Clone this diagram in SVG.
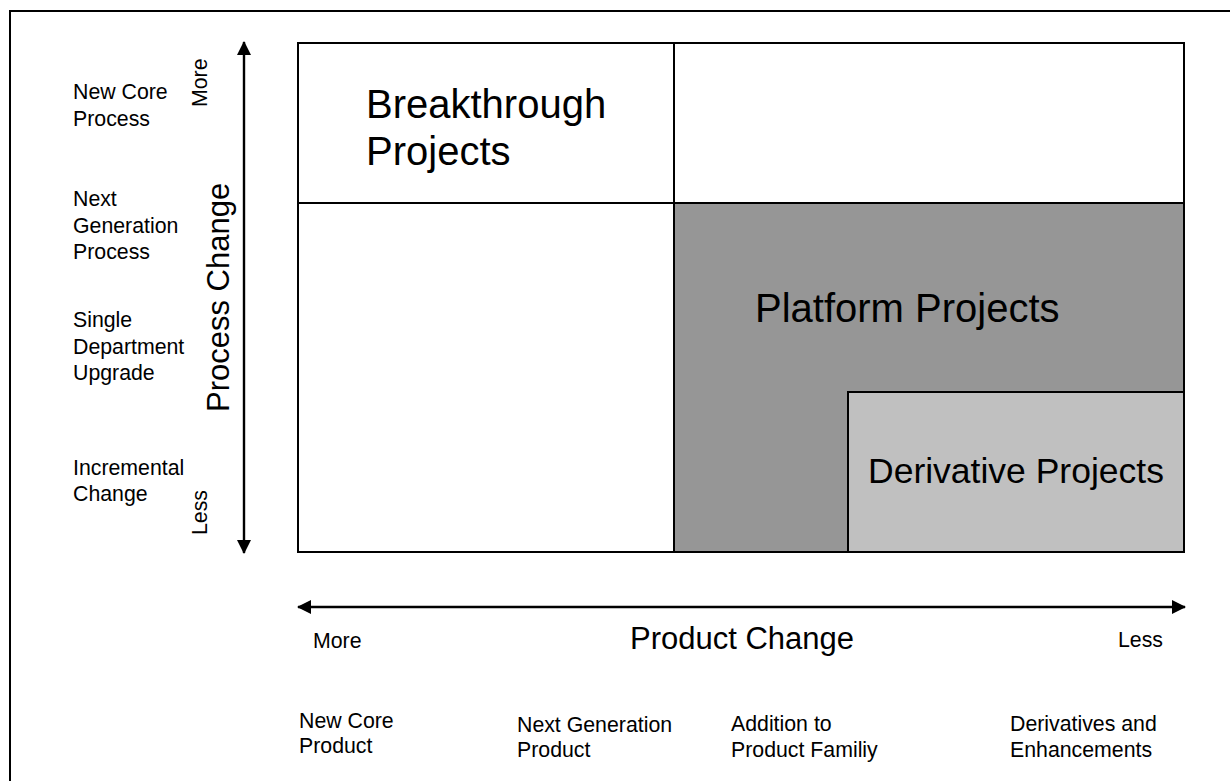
<svg xmlns="http://www.w3.org/2000/svg" width="1230" height="781" viewBox="0 0 1230 781">
<style>
text{font-family:"Liberation Sans",Arial,sans-serif;fill:#000}
.lbl{font-size:21.3px}
.big{font-size:40px}
.ax{font-size:31px}
.cell{stroke:#000;stroke-width:2}
.conn{stroke:#000;stroke-width:2.4;fill:none}
</style>
<defs>
<marker id="ah" viewBox="0 0 14 14" refX="13" refY="7" markerWidth="14" markerHeight="14" markerUnits="userSpaceOnUse" orient="auto-start-reverse">
<path d="M0,0 L14,7 L0,14 z" fill="#000"/>
</marker>
</defs>
<rect x="0" y="0" width="1230" height="781" fill="#fff"/>
<g id="frame">
<path d="M10,781 V11 H1230" fill="none" stroke="#000" stroke-width="2"/>
</g>
<g id="breakthrough">
<rect class="cell" x="298" y="43" width="376" height="160" fill="#fff"/>
<text class="big" x="366" y="118">Breakthrough</text>
<text class="big" x="366" y="165">Projects</text>
</g>
<g id="top-right">
<rect class="cell" x="674" y="43" width="510" height="160" fill="#fff"/>
</g>
<g id="bottom-left">
<rect class="cell" x="298" y="203" width="376" height="349" fill="#fff"/>
</g>
<g id="platform">
<rect class="cell" x="674" y="203" width="510" height="349" fill="#969696"/>
<text class="big" x="755" y="322">Platform Projects</text>
</g>
<g id="derivative">
<rect class="cell" x="848" y="392" width="336" height="160" fill="#C0C0C0"/>
<text x="868" y="483" style="font-size:35.5px">Derivative Projects</text>
</g>
<g id="connectors">
<line class="conn" x1="244" y1="553" x2="244" y2="42" marker-start="url(#ah)" marker-end="url(#ah)"/>
<line class="conn" x1="298" y1="607" x2="1185" y2="607" marker-start="url(#ah)" marker-end="url(#ah)"/>
</g>
<g id="process-axis">
<text class="ax" transform="translate(229,412) rotate(-90)">Process Change</text>
<text class="lbl" transform="translate(207,107) rotate(-90)">More</text>
<text class="lbl" transform="translate(207,535) rotate(-90)">Less</text>
</g>
<g id="process-levels">
<text class="lbl" x="73" y="99">New Core</text>
<text class="lbl" x="73" y="126">Process</text>
<text class="lbl" x="73" y="206">Next</text>
<text class="lbl" x="73" y="233">Generation</text>
<text class="lbl" x="73" y="259">Process</text>
<text class="lbl" x="73" y="327">Single</text>
<text class="lbl" x="73" y="354">Department</text>
<text class="lbl" x="73" y="380">Upgrade</text>
<text class="lbl" x="73" y="475">Incremental</text>
<text class="lbl" x="73" y="501">Change</text>
</g>
<g id="product-axis">
<text class="ax" x="630" y="649">Product Change</text>
<text class="lbl" x="313" y="648">More</text>
<text class="lbl" x="1118" y="647">Less</text>
</g>
<g id="product-levels">
<text class="lbl" x="299" y="728">New Core</text>
<text class="lbl" x="299" y="753">Product</text>
<text class="lbl" x="517" y="732">Next Generation</text>
<text class="lbl" x="517" y="757">Product</text>
<text class="lbl" x="731" y="731">Addition to</text>
<text class="lbl" x="731" y="757">Product Familiy</text>
<text class="lbl" x="1010" y="731">Derivatives and</text>
<text class="lbl" x="1010" y="757">Enhancements</text>
</g>
</svg>
